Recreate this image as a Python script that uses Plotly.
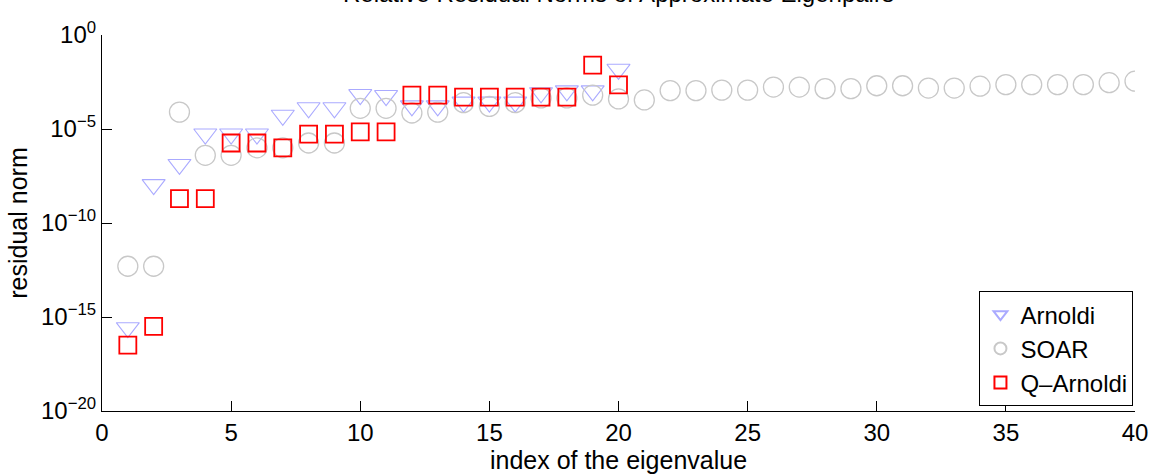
import plotly.graph_objects as go

idx_arnoldi = list(range(1, 21))
arnoldi = [2.7e-16, 1.1e-8, 1.3e-7, 5.4e-6, 5.4e-6, 5.4e-6, 5.4e-5, 1.35e-4, 1.35e-4, 6.8e-4,
           6.0e-4, 1.7e-4, 1.7e-4, 2.7e-4, 2.7e-4, 2.7e-4, 8.5e-4, 1.07e-3, 1.07e-3, 1.5e-2]

idx_soar = list(range(1, 41))
soar = [5.0e-13, 5.0e-13, 7.9e-5, 4.0e-7, 4.0e-7, 1.0e-6, 1.0e-6, 1.8e-6, 1.8e-6, 1.26e-4,
        1.26e-4, 7.1e-5, 7.9e-5, 2.5e-4, 1.6e-4, 2.5e-4, 4.5e-4, 4.5e-4, 6.3e-4, 4.0e-4,
        3.5e-4, 1.1e-3, 1.1e-3, 1.17e-3, 1.17e-3, 1.7e-3, 1.7e-3, 1.4e-3, 1.4e-3, 2.0e-3,
        2.0e-3, 1.5e-3, 1.5e-3, 1.9e-3, 2.3e-3, 2.3e-3, 2.3e-3, 2.3e-3, 2.9e-3, 3.5e-3]

idx_qarnoldi = list(range(1, 21))
qarnoldi = [3.2e-17, 3.2e-16, 2.0e-9, 2.0e-9, 1.8e-6, 1.8e-6, 1.0e-6, 5.4e-6, 5.4e-6, 7.1e-6,
            7.1e-6, 6.3e-4, 6.3e-4, 5.0e-4, 5.0e-4, 5.0e-4, 5.0e-4, 5.0e-4, 2.5e-2, 2.2e-3]

x_ticks = [0, 5, 10, 15, 20, 25, 30, 35, 40]
y_ticks = [1e-20, 1e-15, 1e-10, 1e-5, 1]
y_ticktext = ["10<sup>−20</sup>", "10<sup>−15</sup>", "10<sup>−10</sup>", "10<sup>−5</sup>", "10<sup>0</sup>"]

FONT = "Liberation Sans, Arial, sans-serif"

fig = go.Figure()
fig.add_trace(go.Scatter(
    x=idx_arnoldi, y=arnoldi, mode="markers", name="Arnoldi",
    marker=dict(symbol="triangle-down-open", size=20, color="rgb(170,170,255)",
                line=dict(width=1.1, color="rgb(170,170,255)"))))
fig.add_trace(go.Scatter(
    x=idx_soar, y=soar, mode="markers", name="SOAR",
    marker=dict(symbol="circle-open", size=20, color="rgb(200,200,200)",
                line=dict(width=1.3, color="rgb(200,200,200)"))))
fig.add_trace(go.Scatter(
    x=idx_qarnoldi, y=qarnoldi, mode="markers", name="Q–Arnoldi",
    marker=dict(symbol="square-open", size=17, color="rgb(255,0,0)",
                line=dict(width=1.8, color="rgb(255,0,0)"))))

fig.update_layout(
    width=1159, height=474,
    margin=dict(l=102, r=24, t=35, b=63),
    paper_bgcolor="white", plot_bgcolor="white",
    font=dict(family=FONT, size=24, color="black"),
    showlegend=True,
    legend=dict(x=0.9985, y=0.013, xanchor="right", yanchor="bottom",
                bordercolor="black", borderwidth=1, bgcolor="white",
                font=dict(family=FONT, size=24, color="black"),
                itemsizing="constant", tracegroupgap=0),
    annotations=[dict(text="Relative Residual Norms of Approximate Eigenpairs",
                      x=0.5, y=1.068, xref="paper", yref="paper",
                      xanchor="center", yanchor="bottom", showarrow=False,
                      font=dict(family=FONT, size=24, color="black"))],
)
fig.update_xaxes(
    range=[0, 40], tickvals=x_ticks, ticktext=[str(v) for v in x_ticks],
    showline=True, linecolor="black", linewidth=1.2, mirror=False,
    ticks="inside", ticklen=10, tickcolor="black", tickwidth=1.2,
    showgrid=False, zeroline=False,
    title=dict(text="index of the eigenvalue", standoff=0, font=dict(size=25)),
    tickfont=dict(size=24),
)
fig.update_yaxes(
    type="log", range=[-20, 0], tickvals=y_ticks, ticktext=y_ticktext,
    showline=True, linecolor="black", linewidth=1.2, mirror=False,
    ticks="inside", ticklen=10, tickcolor="black", tickwidth=1.2,
    showgrid=False, zeroline=False,
    title=dict(text="residual norm", standoff=6, font=dict(size=25)),
    tickfont=dict(size=24),
)

fig.write_html("out.html")
